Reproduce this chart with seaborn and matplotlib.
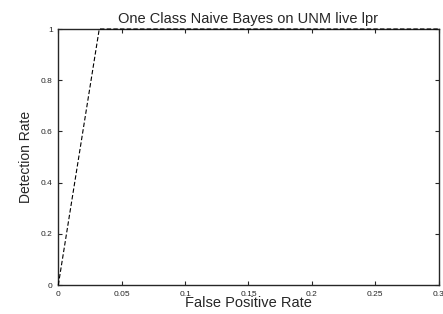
import matplotlib
matplotlib.use("Agg")
import matplotlib.pyplot as plt
import seaborn as sns
import pandas as pd

fpr = [0.0, 0.0323, 0.3]
det = [0.0, 1.0, 1.0]
xticks = [0, 0.05, 0.1, 0.15, 0.2, 0.25, 0.3]
xticklabels = ["0", "0.05", "0.1", "0.15", "0.2", "0.25", "0.3"]
yticks = [0, 0.2, 0.4, 0.6, 0.8, 1]
yticklabels = ["0", "0.2", "0.4", "0.6", "0.8", "1"]

sns.set_style("ticks")
plt.rcParams['font.family'] = ['Liberation Sans', 'DejaVu Sans']

fig = plt.figure(figsize=(4.43, 3.14), dpi=100)
ax = fig.add_axes([58.3/443, 1 - 285/314, (438.7-58.3)/443, (285-29)/314])
df = pd.DataFrame({"fpr": fpr, "det": det})
sns.lineplot(data=df, x="fpr", y="det", ax=ax, color="black", linewidth=0.8,
             linestyle=(0, (4, 2)), sort=False, clip_on=False, zorder=5)
ax.set_xlim(0, 0.3)
ax.set_ylim(0, 1)
ax.set_xticks(xticks)
ax.set_xticklabels(xticklabels)
ax.set_yticks(yticks)
ax.set_yticklabels(yticklabels)
ax.tick_params(direction="in", top=True, right=True, labelsize=6, length=3, width=0.8, pad=4)
for s in ax.spines.values():
    s.set_linewidth(1.0)
ax.set_xlabel("False Positive Rate", fontsize=10.5, labelpad=-1)
ax.set_ylabel("Detection Rate", fontsize=10, labelpad=6)
ax.set_title("One Class Naive Bayes on UNM live lpr", fontsize=10.5, pad=4)
fig.savefig("out.png", dpi=100)
